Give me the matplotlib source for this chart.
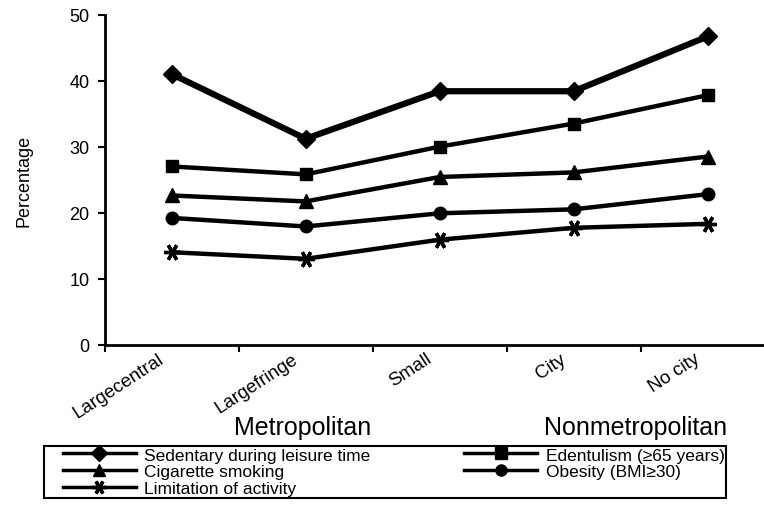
import matplotlib.pyplot as plt
from matplotlib.lines import Line2D
from matplotlib.legend_handler import HandlerLine2D

plt.rcParams['font.family'] = ['Liberation Sans', 'DejaVu Sans']

categories = ['Largecentral', 'Largefringe', 'Small', 'City', 'No city']
sedentary = [41.0, 31.2, 38.4, 38.4, 46.7]
edentulism = [27.0, 25.8, 30.0, 33.5, 37.8]
smoking = [22.6, 21.7, 25.4, 26.1, 28.5]
obesity = [19.2, 17.9, 19.9, 20.5, 22.8]
limitation = [14.0, 13.0, 15.9, 17.7, 18.3]
groups = ['Metropolitan', 'Nonmetropolitan']

labels = ['Sedentary during leisure time', 'Edentulism (\u226565 years)',
          'Cigarette smoking', 'Obesity (BMI\u226530)', 'Limitation of activity']

fig = plt.figure(figsize=(7.64, 5.06), dpi=100)
ax = fig.add_axes([0.137, 0.317, 0.877, 0.652])

x = [i + 0.5 for i in range(len(categories))]
star = (6, 2, 90)
series = [
    (sedentary, 'D', 4.5, 9),
    (edentulism, 's', 3.2, 9),
    (smoking, '^', 3.2, 10),
    (obesity, 'o', 3.2, 9),
    (limitation, star, 3.2, 12),
]
handles = []
for (vals, mk, lw, ms), lab in zip(series, labels):
    mew = 2.4 if mk == star else 1
    ax.plot(x, vals, color='black', lw=lw, marker=mk, ms=ms, mew=mew,
            clip_on=False, zorder=3)
    handles.append(Line2D([], [], color='black', lw=2.5, marker=mk,
                          ms=10 if mk == star else 8, mew=mew, label=lab))

ax.set_xlim(0, 5)
ax.set_ylim(0, 50)
ax.set_yticks(range(0, 51, 10))
# label anchors sit a little left of each category centre, as in the original
ax.set_xticks([v - 0.07 for v in x])
ax.set_xticklabels(categories, rotation=33, ha='right', va='center',
                   rotation_mode='anchor', fontsize=13.5)
ax.set_xticks(range(0, 6), minor=True)
ax.tick_params(axis='x', which='major', length=0, pad=9)
ax.tick_params(axis='x', which='minor', length=5, width=1.5, direction='out')
ax.tick_params(axis='y', length=5, width=1.5, labelsize=13, pad=6)
for s in ['top', 'right']:
    ax.spines[s].set_visible(False)
for s in ['left', 'bottom']:
    ax.spines[s].set_linewidth(2)
ax.set_ylabel('Percentage', fontsize=13)
ax.yaxis.set_label_coords(-0.107, 0.5)

fig.text(303 / 764, 1 - 428 / 506, groups[0], fontsize=18, ha='center', va='center')
fig.text(636 / 764, 1 - 428 / 506, groups[1], fontsize=18, ha='center', va='center')

order = [0, 2, 4, 1, 3]
leg = fig.legend([handles[i] for i in order], [labels[i] for i in order],
                 ncol=2, loc='upper left', bbox_to_anchor=(44 / 764, 1 - 447 / 506),
                 fontsize=12.5, handlelength=5.2, handletextpad=0.5,
                 columnspacing=4.4, labelspacing=0.1, borderpad=0.08,
                 fancybox=False, edgecolor='black', framealpha=1,
                 borderaxespad=0,
                 handler_map={Line2D: HandlerLine2D(xpad=1.0)})
leg.get_frame().set_linewidth(1.5)

fig.savefig('out.png', dpi=100)
